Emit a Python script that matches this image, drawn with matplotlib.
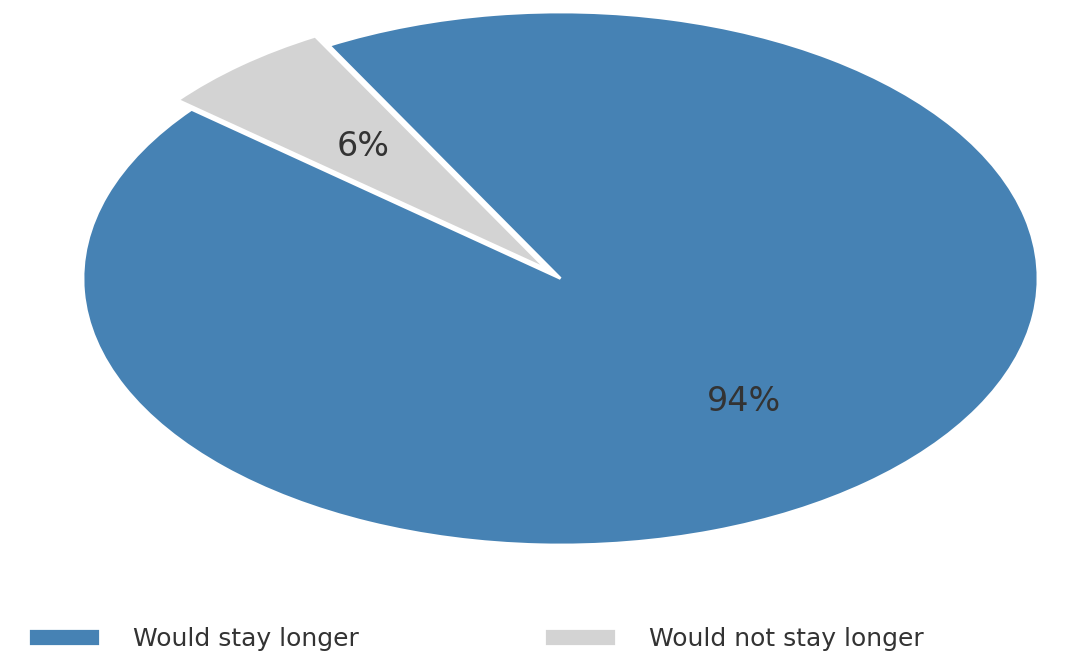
import matplotlib
matplotlib.use('Agg')
import matplotlib.pyplot as plt

# data
labels = ['Would stay longer', 'Would not stay longer']
shares = [94, 6]
colors = ['#4682B4', '#D3D3D3']
explode = [0, 0.045]

fig = plt.figure(figsize=(10.73, 6.56), dpi=100)
ax = fig.add_axes([83 / 1073, 111 / 656, 955 / 1073, 533 / 656])

wedges, texts, autotexts = ax.pie(
    shares, colors=colors, explode=explode, startangle=140.6,
    autopct='%d%%', pctdistance=0.6,
    wedgeprops=dict(edgecolor='white', linewidth=2),
    textprops=dict(fontsize=24, color='#333333'))

# the reference is stretched horizontally, so let the pie fill the axes
ax.set_aspect('auto')
ax.set_xlim(-1, 1)
ax.set_ylim(-1, 1)

fig.legend(wedges, labels, loc='center left', bbox_to_anchor=(28 / 1073, 1 - 639 / 656),
           ncol=2, frameon=False, fontsize=18, handlelength=2.9, handleheight=0.75,
           handletextpad=1.3, columnspacing=7.4, borderpad=0, borderaxespad=0,
           labelcolor='#333333')

fig.savefig('out.png', dpi=100)
